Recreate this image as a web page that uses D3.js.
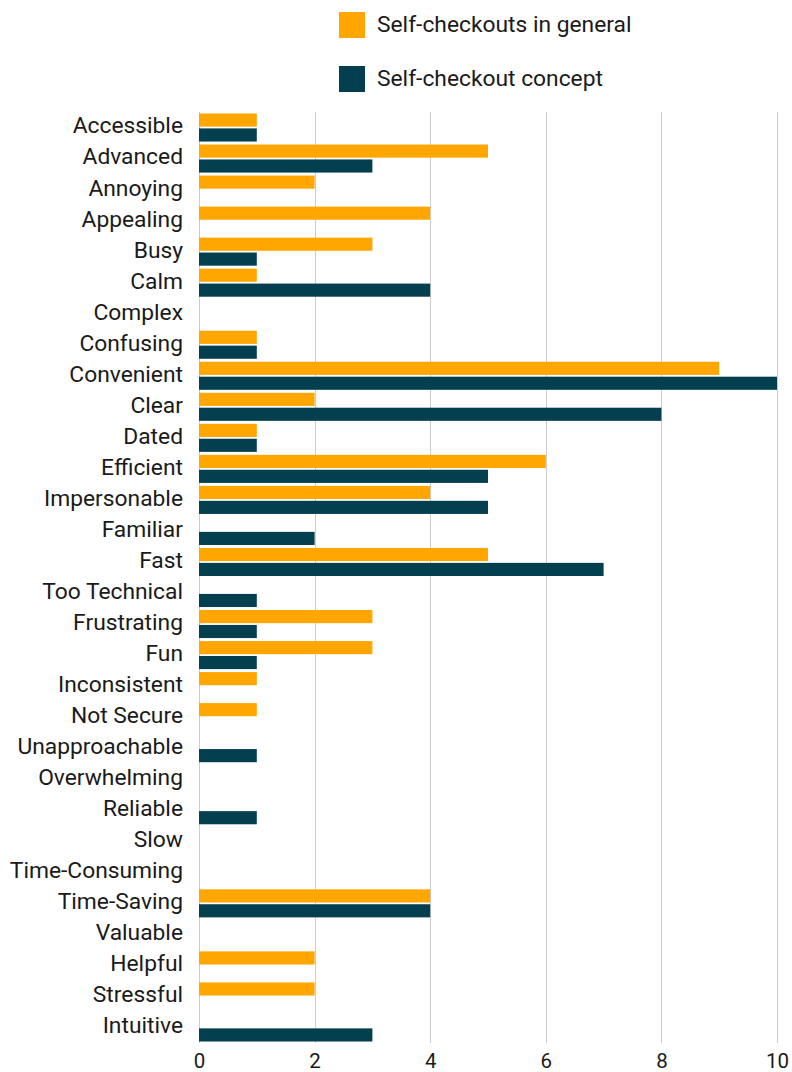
<!DOCTYPE html>
<html>
<head>
<meta charset="utf-8">
<script src="https://cdn.jsdelivr.net/npm/d3@7"></script>
<style>
  html, body { margin: 0; padding: 0; background: #fff; }
  svg { display: block; font-family: Roboto, "Noto Sans", sans-serif; }
</style>
</head>
<body>
<svg id="chart" width="792" height="1072"></svg>
<script>
// Adjectives chosen to describe self-checkouts
const categories = [
  "Accessible", "Advanced", "Annoying", "Appealing", "Busy", "Calm", "Complex",
  "Confusing", "Convenient", "Clear", "Dated", "Efficient", "Impersonable",
  "Familiar", "Fast", "Too Technical", "Frustrating", "Fun", "Inconsistent",
  "Not Secure", "Unapproachable", "Overwhelming", "Reliable", "Slow",
  "Time-Consuming", "Time-Saving", "Valuable", "Helpful", "Stressful", "Intuitive"
];
const seriesNames = ["Self-checkouts in general", "Self-checkout concept"];
const generalCounts = [1, 5, 2, 4, 3, 1, 0, 1, 9, 2, 1, 6, 4, 0, 5, 0, 3, 3, 1, 1, 0, 0, 0, 0, 0, 4, 0, 2, 2, 0];
const conceptCounts = [1, 3, 0, 0, 1, 4, 0, 1, 10, 8, 1, 5, 5, 2, 7, 1, 1, 1, 0, 0, 1, 0, 1, 0, 0, 4, 0, 0, 0, 3];
const xTicks = [0, 2, 4, 6, 8, 10];
const colors = ["#ffa600", "#033f4f"];

const rows = categories.map((c, i) => ({
  category: c,
  values: [
    { key: seriesNames[0], value: generalCounts[i] },
    { key: seriesNames[1], value: conceptCounts[i] }
  ]
}));

const svg = d3.select("#chart");
const margin = { top: 112, right: 15, bottom: 29, left: 199 };
const W = 792, H = 1072;

const x = d3.scaleLinear().domain([0, 10]).range([margin.left, 777]);
const y0 = d3.scaleBand().domain(categories).range([margin.top, H - margin.bottom]).padding(0);
const y1 = d3.scaleBand().domain(seriesNames).range([0, y0.step()]).paddingInner(0.12).paddingOuter(0.1);
const color = d3.scaleOrdinal().domain(seriesNames).range(colors);

// Vertical gridlines
svg.append("g")
  .selectAll("line")
  .data(xTicks)
  .join("line")
  .attr("x1", d => Math.round(x(d)) + 0.5)
  .attr("x2", d => Math.round(x(d)) + 0.5)
  .attr("y1", margin.top)
  .attr("y2", H - margin.bottom)
  .attr("stroke", "#cccccc")
  .attr("stroke-width", 1);

// Bars
const groups = svg.append("g")
  .selectAll("g")
  .data(rows)
  .join("g")
  .attr("transform", d => `translate(0,${y0(d.category)})`);

groups.selectAll("rect")
  .data(d => d.values)
  .join("rect")
  .attr("x", x(0))
  .attr("y", d => y1(d.key))
  .attr("width", d => x(d.value) - x(0))
  .attr("height", y1.bandwidth())
  .attr("fill", d => color(d.key));

// Category labels
const yAxis = d3.axisLeft(y0).tickSize(0).tickPadding(16);
svg.append("g")
  .attr("transform", `translate(${margin.left},0)`)
  .call(yAxis)
  .call(g => g.select(".domain").remove())
  .call(g => g.selectAll("text")
    .attr("dy", "0.26em")
    .attr("font-size", 22.8)
    .attr("font-family", "Roboto, sans-serif")
    .attr("fill", "#1a1a1a"));

// Value axis labels
const xAxis = d3.axisBottom(x).tickValues(xTicks).tickSize(0).tickPadding(10).tickFormat(d3.format("d"));
svg.append("g")
  .attr("transform", `translate(0,${H - margin.bottom})`)
  .call(xAxis)
  .call(g => g.select(".domain").remove())
  .call(g => g.selectAll("text")
    .attr("font-size", 20.5)
    .attr("font-family", "Roboto, sans-serif")
    .attr("fill", "#1a1a1a"));

// Legend
const legend = svg.append("g")
  .selectAll("g")
  .data(seriesNames)
  .join("g")
  .attr("transform", (d, i) => `translate(339,${12 + i * 54})`);

legend.append("rect")
  .attr("width", 26)
  .attr("height", 26)
  .attr("fill", d => color(d));

legend.append("text")
  .attr("x", 38)
  .attr("y", 19.5)
  .attr("font-size", 22.8)
  .attr("fill", "#1a1a1a")
  .text(d => d);
</script>
</body>
</html>
